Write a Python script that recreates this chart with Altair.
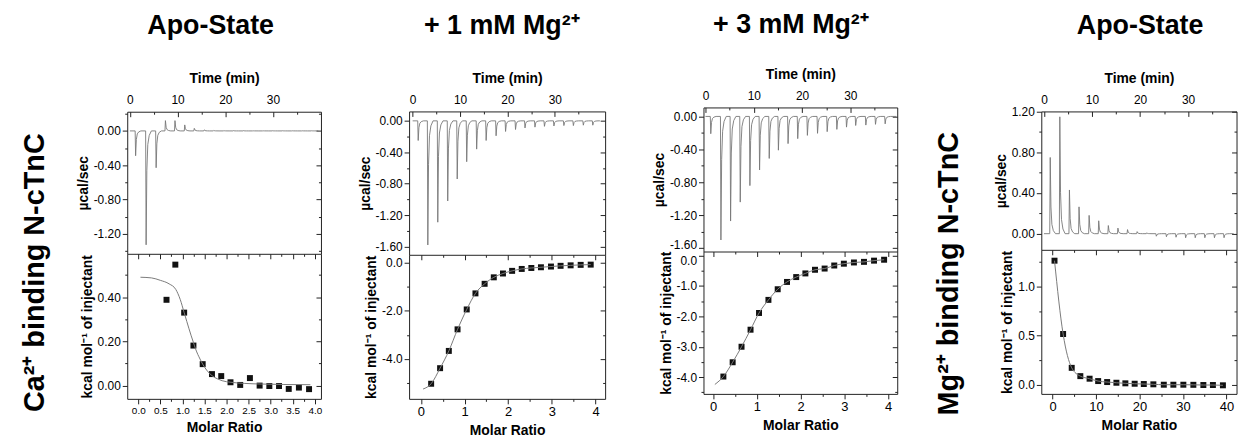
import altair as alt
import pandas as pd

FONT = "Liberation Sans"
W, H = 1240, 431

TITLES = ["Apo-State", "+ 1 mM Mg²⁺", "+ 3 mM Mg²⁺", "Apo-State"]
SIDE_LABELS = ["Ca²⁺ binding N-cTnC", "Mg²⁺ binding N-cTnC"]

# ---- Thermograms: injection times (min) and peak heat rates (µcal/sec) ----
P1_TIMES = [1.1, 3.3, 5.4, 7.35, 9.35, 11.4, 13.4, 15.5, 17.5, 19.6, 21.6, 23.7, 25.7, 27.8, 29.8, 31.9, 33.9, 36.0, 38.0]
P1_HEAT = [-0.29, -1.33, -0.43, 0.12, 0.12, 0.07, 0.03, 0.012, 0.006, 0.004, 0.003, 0.003, 0.002, 0.002, 0.002, 0.002, 0.002, 0.002, 0.002]

P2_TIMES = [1.07, 3.1, 5.2, 7.3, 9.3, 11.3, 13.4, 15.4, 17.5, 19.5, 21.6, 23.6, 25.7, 27.7, 29.7, 31.8, 33.8, 35.9, 37.9]
P2_HEAT = [-0.25, -1.58, -1.29, -1.02, -0.74, -0.52, -0.36, -0.25, -0.19, -0.135, -0.11, -0.09, -0.08, -0.07, -0.065, -0.06, -0.06, -0.055, -0.055]

P3_TIMES = [1.0, 3.1, 5.1, 7.1, 9.1, 11.1, 13.1, 15.0, 17.0, 19.0, 21.0, 23.1, 25.1, 27.1, 29.1, 31.0, 33.1, 35.1, 37.1]
P3_HEAT = [-0.21, -1.50, -1.27, -1.04, -0.84, -0.65, -0.51, -0.41, -0.33, -0.27, -0.23, -0.205, -0.185, -0.157, -0.13, -0.11, -0.105, -0.096, -0.09]

P4_TIMES = [1.2, 3.2, 5.2, 7.2, 9.3, 11.3, 13.3, 15.3, 17.3, 19.3, 21.3, 23.3, 25.4, 27.4, 29.4, 31.4, 33.4, 35.4, 37.4]
P4_HEAT = [0.75, 1.15, 0.43, 0.264, 0.18, 0.127, 0.08, 0.055, 0.04, 0.02, 0.008, -0.025, -0.03, -0.035, -0.04, -0.04, -0.04, -0.04, -0.04]

# drawn shape of one injection peak (offset in min, fraction of peak height)
PEAK_DT = [0.0, 0.1, 0.25, 0.45, 0.75, 1.2]
PEAK_FRAC = [0.0, 1.0, 0.35, 0.12, 0.04, 0.0]
RUN_END = 39.5

# ---- Integrated isotherms: molar ratio and kcal/mol of injectant ----
P1_RATIO = [0.64, 0.84, 1.04, 1.25, 1.46, 1.67, 1.88, 2.09, 2.31, 2.53, 2.75, 2.97, 3.19, 3.41, 3.64, 3.87]
P1_DH = [0.388, 0.547, 0.33, 0.181, 0.097, 0.052, 0.043, 0.015, 0.003, 0.034, 0.0, -0.002, -0.002, -0.015, -0.009, -0.016]
P1_FIT_R = [0.05, 0.3, 0.5, 0.7, 0.85, 0.95, 1.04, 1.1, 1.2, 1.25, 1.3, 1.4, 1.46, 1.55, 1.67, 1.8, 1.9, 2.1, 2.4, 2.8, 3.3, 3.9]
P1_FIT_DH = [0.49, 0.487, 0.476, 0.46, 0.435, 0.39, 0.33, 0.29, 0.225, 0.195, 0.165, 0.12, 0.097, 0.07, 0.045, 0.03, 0.022, 0.015, 0.01, 0.007, 0.005, 0.004]

P2_RATIO = [0.235, 0.44, 0.64, 0.84, 1.05, 1.25, 1.46, 1.67, 1.88, 2.09, 2.31, 2.53, 2.75, 2.98, 3.2, 3.43, 3.66, 3.89]
P2_DH = [-5.04, -4.39, -3.67, -2.77, -1.94, -1.27, -0.87, -0.6, -0.44, -0.33, -0.25, -0.21, -0.18, -0.15, -0.12, -0.10, -0.08, -0.07]
P2_FIT_R = [0.05] + P2_RATIO
P2_FIT_DH = [-5.26] + P2_DH

P3_RATIO = [0.235, 0.447, 0.65, 0.856, 1.05, 1.265, 1.477, 1.69, 1.9, 2.11, 2.33, 2.55, 2.77, 2.99, 3.22, 3.45, 3.68, 3.91]
P3_DH = [-3.98, -3.51, -3.0, -2.44, -1.89, -1.46, -1.11, -0.87, -0.71, -0.59, -0.47, -0.43, -0.33, -0.27, -0.23, -0.21, -0.17, -0.14]
P3_FIT_R = [0.04] + P3_RATIO
P3_FIT_DH = [-4.24] + P3_DH

P4_RATIO = [0.46, 2.44, 4.42, 6.4, 8.53, 10.5, 12.57, 14.7, 16.76, 18.9, 21.0, 23.2, 25.6, 27.8, 30.1, 32.4, 34.7, 36.9, 39.2]
P4_DH = [1.26, 0.517, 0.174, 0.09, 0.064, 0.04, 0.03, 0.023, 0.017, 0.013, 0.01, 0.007, 0.003, 0.003, 0.003, 0.002, 0.0, 0.0, -0.003]
P4_FIT_R = P4_RATIO
P4_FIT_DH = P4_DH

# ---- geometry (pixels inside the chart) and axis set-up ----
PANELS = [
    dict(xl=120, xr=315, yt=103, ym=246, yb=392,
         tdom=[-0.56, 40.06], thdom=[-1.435, 0.224], idom=[-0.06, 0.596], mdom=[-0.25, 4.14],
         th_ticks=(-1.4, 0.2, 0.2, 0.4, ".2f"), i_ticks=(0.0, 0.5, 0.1, 0.2, ".2f"),
         m_ticks=(0.0, 4.0, 0.25, 0.5, ".1f"), m_size=10, nudge=False,
         times=P1_TIMES, heat=P1_HEAT, ratio=P1_RATIO, dh=P1_DH, fr=P1_FIT_R, fdh=P1_FIT_DH),
    dict(xl=403.7, xr=601, yt=102.7, ym=247, yb=392,
         tdom=[-0.75, 40.6], thdom=[-1.705, 0.12], idom=[-5.67, 0.34], mdom=[-0.27, 4.22],
         th_ticks=(-1.6, 0.0, 0.2, 0.4, ".2f"), i_ticks=(-5.0, 0.0, 1.0, 2.0, ".1f"),
         m_ticks=(0.0, 4.0, 0.5, 1.0, ".0f"), m_size=13, nudge=False,
         times=P2_TIMES, heat=P2_HEAT, ratio=P2_RATIO, dh=P2_DH, fr=P2_FIT_R, fdh=P2_FIT_DH),
    dict(xl=700, xr=895, yt=98.7, ym=243.7, yb=387,
         tdom=[-0.41, 39.7], thdom=[-1.64, 0.109], idom=[-4.55, 0.13], mdom=[-0.22, 4.21],
         th_ticks=(-1.6, 0.0, 0.2, 0.4, ".2f"), i_ticks=(-4.5, 0.0, 0.5, 1.0, ".1f"),
         m_ticks=(0.0, 4.0, 0.5, 1.0, ".0f"), m_size=13, nudge=True,
         times=P3_TIMES, heat=P3_HEAT, ratio=P3_RATIO, dh=P3_DH, fr=P3_FIT_R, fdh=P3_FIT_DH),
    dict(xl=1040, xr=1236.5, yt=102.7, ym=242, yb=387,
         tdom=[-0.56, 40.1], thdom=[-0.159, 1.203], idom=[-0.09, 1.37], mdom=[-2.58, 42.33],
         th_ticks=(0.0, 1.2, 0.2, 0.4, ".2f"), i_ticks=(0.0, 1.25, 0.25, 0.5, ".1f"),
         m_ticks=(0.0, 40.0, 5.0, 10.0, ".0f"), m_size=13, nudge=False,
         times=P4_TIMES, heat=P4_HEAT, ratio=P4_RATIO, dh=P4_DH, fr=P4_FIT_R, fdh=P4_FIT_DH),
]
TIME_TICKS = (0.0, 35.0, 5.0, 10.0, ".0f")
TITLE_POS = [(204, 17), (497, 17), (788, 16), (1139.5, 17)]
SIDE_POS = [(27, 265), (947, 266)]


def tick_values(lo, hi, step):
    n0, n1 = round(lo / step), round(hi / step)
    return [round(k * step, 6) for k in range(n0, n1 + 1)]


def is_major(major):
    return f"abs(datum.value/{major} - round(datum.value/{major})) < 0.001"


def axis(orient, offset, spec, title=None, labels=True, domain=True, label_size=12,
         label_pad=2, title_pad=3, ticks=True, edge_baseline=None):
    lo, hi, minor, major, fmt = spec
    kw = dict(orient=orient, offset=offset, values=tick_values(lo, hi, minor),
              grid=False, domain=domain, labels=labels, ticks=ticks, title=title)
    if ticks:
        kw["tickSize"] = 5
        kw["tickDash"] = {"condition": {"test": "!(" + is_major(major) + ")", "value": [2.5, 30]},
                          "value": [10, 0]}
    if labels:
        kw["labelExpr"] = (is_major(major) + " ? replace(format(datum.value, '" + fmt +
                           "'), '\u2212', '-') : ''")
        kw["labelFontSize"] = label_size
        kw["labelPadding"] = label_pad
        if edge_baseline is not None:
            edge_value, base = edge_baseline
            kw["labelBaseline"] = {"condition": {"test": f"abs(datum.value - ({edge_value})) < 0.001",
                                                 "value": base},
                                   "value": "middle"}
    if title:
        kw["titlePadding"] = title_pad
    return alt.Axis(**kw)


def sc(dom, rng):
    return alt.Scale(domain=dom, range=rng, nice=False, zero=False)


layers = []
for p in PANELS:
    rows = [(0.0, 0.0)]
    for t, a in zip(p["times"], p["heat"]):
        for dt, f in zip(PEAK_DT, PEAK_FRAC):
            rows.append((t + dt, a * f))
    rows.append((RUN_END, 0.0))
    trace = pd.DataFrame(rows, columns=["t", "q"])
    trace["i"] = range(len(trace))
    pts = pd.DataFrame({"r": p["ratio"], "h": p["dh"]})
    fit = pd.DataFrame({"r": p["fr"], "h": p["fdh"]})

    xs_t = sc(p["tdom"], [p["xl"], p["xr"]])
    ys_t = sc(p["thdom"], [p["ym"], p["yt"]])
    xs_m = sc(p["mdom"], [p["xl"], p["xr"]])
    ys_i = sc(p["idom"], [p["yb"], p["ym"]])

    th_edge = (p["th_ticks"][0], "alphabetic") if p["nudge"] else None
    i_edge = (p["i_ticks"][1], "top") if p["nudge"] else None

    # thermogram with labelled axes (time on top, heat rate left)
    layers.append(
        alt.Chart(trace).mark_line(color="#777777", strokeWidth=0.9).encode(
            x=alt.X("t:Q", scale=xs_t,
                    axis=axis("top", -p["yt"], TIME_TICKS, title="Time (min)", ticks=False,
                              label_pad=5, title_pad=8)),
            y=alt.Y("q:Q", scale=ys_t,
                    axis=axis("left", -p["xl"], p["th_ticks"], title="µcal/sec",
                              edge_baseline=th_edge)),
            order="i:Q",
        )
    )
    # mirrored inward ticks of the thermogram frame (top edge, right edge)
    layers.append(
        alt.Chart(trace).mark_line(opacity=0).encode(
            x=alt.X("t:Q", scale=xs_t,
                    axis=axis("bottom", p["yt"] - H, TIME_TICKS, labels=False, domain=False)),
            y=alt.Y("q:Q", scale=ys_t,
                    axis=axis("left", -p["xr"], p["th_ticks"], labels=False)),
            order="i:Q",
        )
    )
    # isotherm points with labelled axes
    layers.append(
        alt.Chart(pts).mark_square(size=36, color="#111111", opacity=1).encode(
            x=alt.X("r:Q", scale=xs_m,
                    axis=axis("bottom", p["yb"] - H, p["m_ticks"], title="Molar Ratio",
                              label_size=p["m_size"], title_pad=5)),
            y=alt.Y("h:Q", scale=ys_i,
                    axis=axis("left", -p["xl"], p["i_ticks"], title="kcal mol⁻¹ of injectant",
                              edge_baseline=i_edge)),
        )
    )
    # fitted curve, carrying the inward ticks of the isotherm frame (top edge, right edge)
    layers.append(
        alt.Chart(fit).mark_line(color="#7a7a7a", strokeWidth=1, interpolate="monotone").encode(
            x=alt.X("r:Q", scale=xs_m,
                    axis=axis("bottom", p["ym"] - H, p["m_ticks"], labels=False)),
            y=alt.Y("h:Q", scale=ys_i,
                    axis=axis("left", -p["xr"], p["i_ticks"], labels=False)),
        )
    )

for txt, (cx, cy) in zip(TITLES, TITLE_POS):
    layers.append(
        alt.Chart(pd.DataFrame({"label": [txt]})).mark_text(
            font=FONT, fontSize=27, fontWeight="bold", color="black",
            align="center", baseline="middle").encode(
            x=alt.value(cx), y=alt.value(cy), text="label:N")
    )
for txt, (cx, cy) in zip(SIDE_LABELS, SIDE_POS):
    layers.append(
        alt.Chart(pd.DataFrame({"label": [txt]})).mark_text(
            font=FONT, fontSize=29, fontWeight="bold", color="black", angle=270,
            align="center", baseline="middle").encode(
            x=alt.value(cx), y=alt.value(cy), text="label:N")
    )

chart = (
    alt.layer(*layers)
    .resolve_scale(x="independent", y="independent")
    .resolve_axis(x="independent", y="independent")
    .properties(width=W, height=H, autosize=alt.AutoSizeParams(type="none"), padding=0)
    .configure_view(strokeWidth=0)
    .configure_axis(labelFont=FONT, titleFont=FONT, labelColor="black", titleColor="black",
                    domainColor="#222222", tickColor="#222222", domainWidth=1, tickWidth=1,
                    titleFontSize=14, titleFontWeight="bold", labelOverlap=False,
                    labelFlush=False)
)

chart.save("out.html", embed_options={"renderer": "svg", "actions": False})
